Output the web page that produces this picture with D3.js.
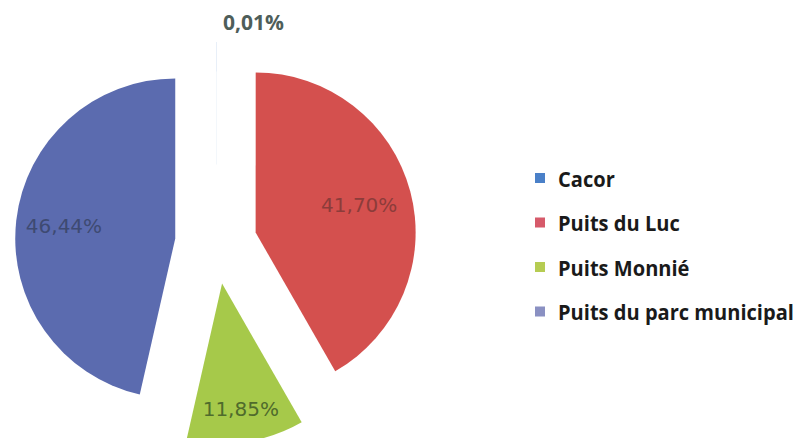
<!DOCTYPE html>
<html>
<head>
<meta charset="utf-8">
<script src="https://cdnjs.cloudflare.com/ajax/libs/d3/7.8.5/d3.min.js"></script>
<style>
  html, body { margin: 0; padding: 0; background: #ffffff; }
  svg { display: block; }
</style>
</head>
<body>
<svg id="chart" width="801" height="438"></svg>
<script>
// Water source shares (percent)
const categories = ["Cacor", "Puits du Luc", "Puits Monnié", "Puits du parc municipal"];
const shares = [0.01, 41.70, 11.85, 46.44];
const sliceColors = ["#4a7ec2", "#d4504e", "#a6c94a", "#5b6baf"];
const legendColors = ["#4a80c8", "#d65a6a", "#b6cc52", "#8a90c2"];
const labelColors = ["#4e5e5a", "#8c3c3a", "#4f6b2c", "#3e4a72"];

const W = 801, H = 438;
const cx = 216, cy = 243, R = 160, explode = 41;

const svg = d3.select("#chart");
const fmt = v => d3.format(".2f")(v).replace(".", ",") + "%";

const pie = d3.pie().sort(null).value(d => d);
const arcs = pie(shares);
const arc = d3.arc().innerRadius(0).outerRadius(R);

// Unit vector pointing along a slice's middle angle (0 = 12 o'clock, clockwise)
const dir = a => [Math.sin(a), -Math.cos(a)];

const g = svg.append("g").attr("transform", `translate(${cx},${cy})`);

const slices = g.selectAll("g.slice")
  .data(arcs)
  .join("g")
  .attr("class", "slice")
  .attr("transform", d => {
    const m = (d.startAngle + d.endAngle) / 2;
    const [ux, uy] = dir(m);
    return `translate(${ux * explode},${uy * explode})`;
  });

slices.append("path")
  .attr("d", arc)
  .attr("fill", (d, i) => sliceColors[i]);

// Data labels: inside the larger slices, outside above the tiny one
const labelRadius = [R + 20, R * 0.67, R * 0.79, R * 0.70];
slices.append("text")
  .each(function (d, i) {
    const m = (d.startAngle + d.endAngle) / 2;
    const [ux, uy] = dir(m);
    const r = labelRadius[i];
    const sel = d3.select(this);
    const tiny = d.endAngle - d.startAngle < 0.05;
    sel.attr("x", ux * r + (tiny ? 7 : 0))
      .attr("y", uy * r)
      .attr("dy", "0.36em")
      .attr("text-anchor", tiny ? "start" : "middle")
      .attr("fill", labelColors[i])
      .style("font-family", tiny ? "'Open Sans', 'Liberation Sans', sans-serif" : "'DejaVu Sans', Verdana, sans-serif")
      .style("font-weight", tiny ? "700" : "400")
      .style("font-size", tiny ? "21px" : "20px")
      .text(fmt(d.data));
  });

// Legend
const legend = svg.append("g").attr("transform", "translate(535,178)");
const rowStep = 44.5;
const legendTextWidth = 236; // room for the longest entry
const rows = legend.selectAll("g.row")
  .data(categories)
  .join("g")
  .attr("class", "row")
  .attr("transform", (d, i) => `translate(0,${i * rowStep})`);

rows.append("rect")
  .attr("x", 0).attr("y", -5)
  .attr("width", 10).attr("height", 10)
  .attr("fill", (d, i) => legendColors[i]);

const legendTexts = rows.append("text")
  .attr("x", 0).attr("y", 0)
  .attr("fill", "#1a1a1a")
  .style("font-family", "'Open Sans', 'Liberation Sans', sans-serif")
  .style("font-weight", "700")
  .style("font-size", "22px")
  .text(d => d);

// Condense the legend type horizontally so the longest entry fits
const widest = d3.max(legendTexts.nodes(), n => n.getComputedTextLength());
const squeeze = Math.min(1, legendTextWidth / widest);
legendTexts.attr("transform", `translate(23,8.5) scale(${squeeze},1)`);
</script>
</body>
</html>
